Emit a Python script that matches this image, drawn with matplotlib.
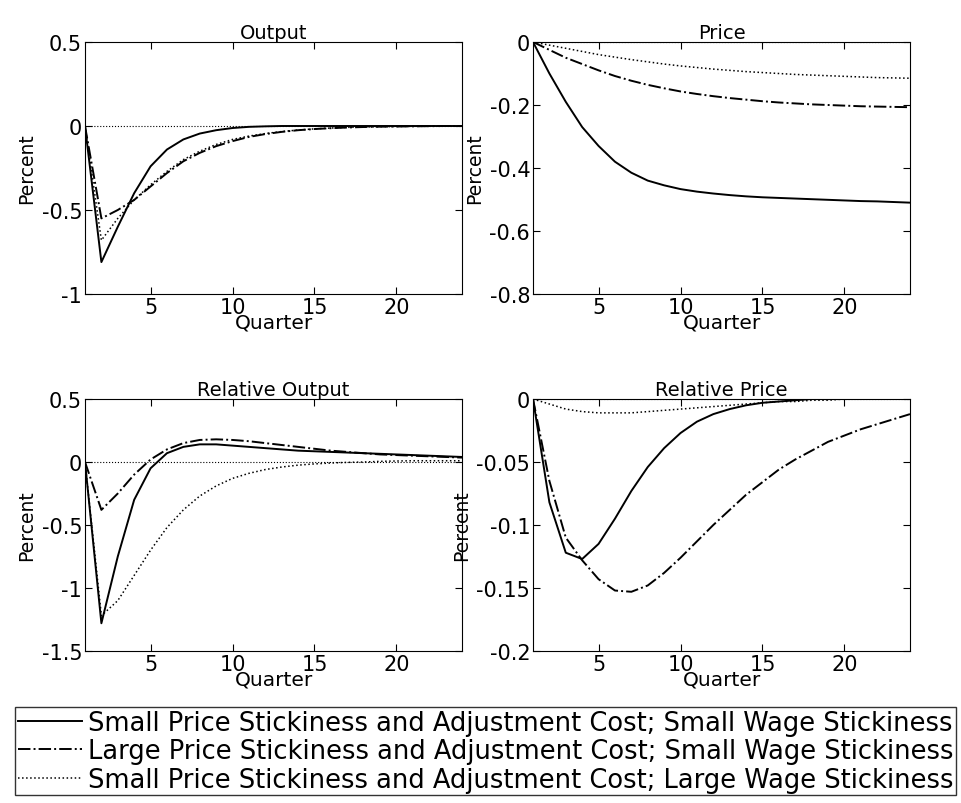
import matplotlib
matplotlib.use("Agg")
import matplotlib.pyplot as plt
import numpy as np

plt.rcParams['font.family'] = ['DejaVu Sans']
plt.rcParams['font.size'] = 15

quarters = list(range(1, 25))
out_s = [0,-0.81,-0.6,-0.4,-0.24,-0.14,-0.08,-0.045,-0.025,-0.012,-0.005,-0.002,0,0,0,0,0,0,0,0,0,0,0,0]
out_d = [0,-0.55,-0.5,-0.44,-0.36,-0.28,-0.21,-0.16,-0.12,-0.09,-0.065,-0.048,-0.035,-0.025,-0.018,-0.013,-0.009,-0.006,-0.004,-0.003,-0.002,-0.001,0,0]
out_o = [0,-0.68,-0.55,-0.44,-0.35,-0.27,-0.2,-0.15,-0.11,-0.08,-0.06,-0.045,-0.033,-0.024,-0.017,-0.012,-0.008,-0.006,-0.004,-0.003,-0.002,-0.001,0,0]
pr_s = [0,-0.1,-0.19,-0.27,-0.33,-0.38,-0.415,-0.44,-0.455,-0.467,-0.475,-0.481,-0.486,-0.49,-0.493,-0.495,-0.497,-0.499,-0.501,-0.503,-0.505,-0.506,-0.508,-0.51]
pr_d = [0,-0.025,-0.05,-0.07,-0.09,-0.108,-0.123,-0.136,-0.147,-0.157,-0.165,-0.172,-0.178,-0.183,-0.188,-0.192,-0.195,-0.198,-0.2,-0.202,-0.204,-0.205,-0.206,-0.207]
pr_o = [0,-0.01,-0.02,-0.03,-0.04,-0.048,-0.056,-0.063,-0.07,-0.076,-0.081,-0.086,-0.09,-0.094,-0.097,-0.1,-0.103,-0.105,-0.107,-0.109,-0.111,-0.113,-0.114,-0.115]
ro_s = [0,-1.28,-0.75,-0.3,-0.05,0.07,0.12,0.14,0.14,0.13,0.12,0.11,0.1,0.09,0.085,0.08,0.075,0.07,0.065,0.06,0.055,0.05,0.045,0.04]
ro_d = [0,-0.38,-0.25,-0.1,0.02,0.1,0.15,0.175,0.18,0.175,0.165,0.15,0.135,0.12,0.105,0.09,0.08,0.07,0.06,0.055,0.05,0.045,0.04,0.035]
ro_o = [0,-1.22,-1.1,-0.9,-0.7,-0.52,-0.38,-0.27,-0.19,-0.13,-0.09,-0.06,-0.04,-0.025,-0.015,-0.008,-0.003,0,0.005,0.008,0.01,0.01,0.01,0.01]
rp_s = [0,-0.082,-0.122,-0.127,-0.115,-0.095,-0.073,-0.054,-0.039,-0.027,-0.018,-0.012,-0.008,-0.005,-0.003,-0.002,-0.001,0,0,0,0,0,0,0]
rp_d = [0,-0.065,-0.11,-0.128,-0.143,-0.152,-0.153,-0.148,-0.138,-0.126,-0.113,-0.1,-0.088,-0.076,-0.066,-0.056,-0.048,-0.041,-0.034,-0.029,-0.024,-0.02,-0.016,-0.012]
rp_o = [0,-0.004,-0.008,-0.01,-0.011,-0.011,-0.011,-0.01,-0.009,-0.008,-0.007,-0.006,-0.005,-0.004,-0.003,-0.002,-0.002,-0.001,-0.001,0,0,0,0,0]

labels = ["Small Price Stickiness and Adjustment Cost; Small Wage Stickiness",
          "Large Price Stickiness and Adjustment Cost; Small Wage Stickiness",
          "Small Price Stickiness and Adjustment Cost; Large Wage Stickiness"]

panels = [("Output", out_s, out_d, out_o, (-1, 0.5), [-1, -0.5, 0, 0.5], ['-1', '-0.5', '0', '0.5']),
          ("Price", pr_s, pr_d, pr_o, (-0.8, 0), [-0.8, -0.6, -0.4, -0.2, 0], ['-0.8', '-0.6', '-0.4', '-0.2', '0']),
          ("Relative Output", ro_s, ro_d, ro_o, (-1.5, 0.5), [-1.5, -1, -0.5, 0, 0.5], ['-1.5', '-1', '-0.5', '0', '0.5']),
          ("Relative Price", rp_s, rp_d, rp_o, (-0.2, 0), [-0.2, -0.15, -0.1, -0.05, 0], ['-0.2', '-0.15', '-0.1', '-0.05', '0'])]

W, H = 961, 804
fig = plt.figure(figsize=(W/100, H/100), dpi=100)
rects = [(85, 43), (533, 43), (85, 400), (533, 400)]
aw, ah = 377, 252
handles = None
for (x0, y0), (title, s, d, o, yl, yt, ytl) in zip(rects, panels):
    ax = fig.add_axes([x0/W, 1-(y0+ah)/H, aw/W, ah/H])
    ax.plot(quarters, [0]*len(quarters), color='k', lw=0.8, ls=':')
    h1, = ax.plot(quarters, s, 'k-', lw=1.4)
    h2, = ax.plot(quarters, d, 'k-.', lw=1.4)
    h3, = ax.plot(quarters, o, 'k:', lw=1.1)
    handles = [h1, h2, h3]
    ax.set_xlim(1, 24)
    ax.set_ylim(*yl)
    ax.set_xticks([5, 10, 15, 20])
    ax.set_yticks(yt)
    ax.set_yticklabels(ytl)
    ax.tick_params(direction='in', length=5, top=True, right=True, pad=2, labelsize=15)
    ax.set_title(title, fontsize=14, pad=3)
    ax.set_xlabel("Quarter", labelpad=-3, fontsize=14.5)
    ax.set_ylabel("Percent", fontsize=13.5, labelpad=4)

fig.legend(handles, labels, loc='upper left', bbox_to_anchor=(15/W, 1-708/H),
           frameon=True, fancybox=False, edgecolor='k', fontsize=18.5,
           borderpad=0.1, labelspacing=0.1, handlelength=2.5, handletextpad=0.25,
           borderaxespad=0.0)
fig.savefig("out.png", dpi=100)
